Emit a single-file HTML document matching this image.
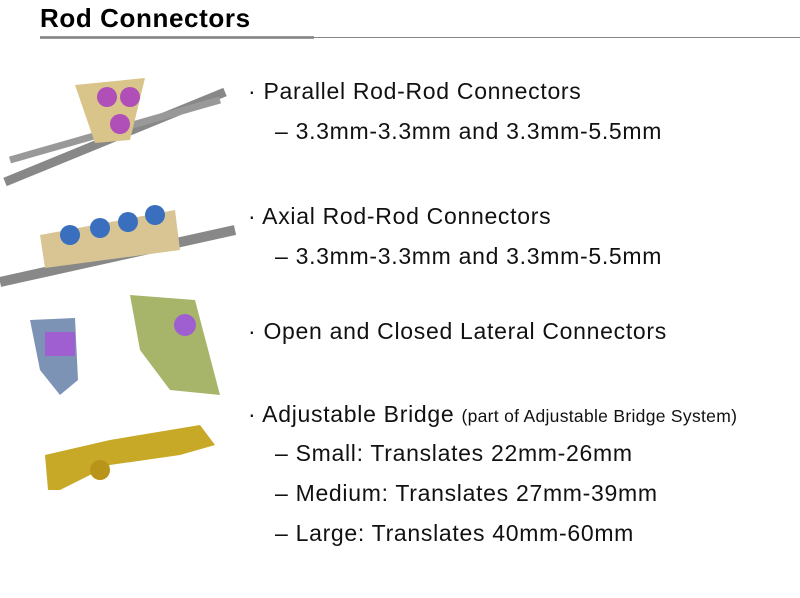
<!DOCTYPE html>
<html><head><style>
body{margin:0;width:800px;height:598px;background:#fff;position:relative;overflow:hidden;font-family:"Liberation Sans",sans-serif;}
.h{position:absolute;left:40px;top:3px;font-size:26px;font-weight:bold;color:#000;letter-spacing:0.6px}
.t{position:absolute;font-size:23px;color:#111;white-space:nowrap;line-height:26px;letter-spacing:0.7px}
.s{font-size:17.5px;letter-spacing:0.3px}
</style></head><body>
<div class="h">Rod Connectors</div>
<div style="position:absolute;left:40px;top:36px;width:274px;height:3px;background:#999"></div>
<div style="position:absolute;left:40px;top:37px;width:760px;height:1px;background:#888"></div>

<div class="t" style="left:248px;top:78px">· Parallel Rod-Rod Connectors</div>
<div class="t" style="left:275px;top:118px">– 3.3mm-3.3mm and 3.3mm-5.5mm</div>
<div class="t" style="left:248px;top:203px">· Axial Rod-Rod Connectors</div>
<div class="t" style="left:275px;top:243px">– 3.3mm-3.3mm and 3.3mm-5.5mm</div>
<div class="t" style="left:248px;top:318px">· Open and Closed Lateral Connectors</div>
<div class="t" style="left:248px;top:401px">· Adjustable Bridge <span class="s">(part of Adjustable Bridge System)</span></div>
<div class="t" style="left:275px;top:440px">– Small: Translates 22mm-26mm</div>
<div class="t" style="left:275px;top:480px">– Medium: Translates 27mm-39mm</div>
<div class="t" style="left:275px;top:520px">– Large: Translates 40mm-60mm</div>

<svg width="240" height="598" style="position:absolute;left:0;top:0">
<line x1="5" y1="182" x2="225" y2="92" stroke="#888" stroke-width="9"/>
<line x1="10" y1="160" x2="220" y2="100" stroke="#999" stroke-width="7"/>
<polygon points="75,85 145,78 130,140 95,143" fill="#d9c48a"/>
<circle cx="107" cy="97" r="10" fill="#b04fb8"/><circle cx="130" cy="97" r="10" fill="#b04fb8"/><circle cx="120" cy="124" r="10" fill="#b04fb8"/>
<line x1="0" y1="282" x2="235" y2="230" stroke="#888" stroke-width="10"/>
<polygon points="40,235 175,210 180,250 45,268" fill="#d8c593"/>
<circle cx="70" cy="235" r="10" fill="#3a6fc0"/><circle cx="100" cy="228" r="10" fill="#3a6fc0"/><circle cx="128" cy="222" r="10" fill="#3a6fc0"/><circle cx="155" cy="215" r="10" fill="#3a6fc0"/>
<polygon points="30,320 75,318 78,380 60,395 40,370" fill="#7d93b5"/>
<rect x="45" y="332" width="30" height="24" fill="#9f5fd0"/>
<polygon points="130,295 195,300 220,395 170,390 140,350" fill="#a7b56a"/>
<circle cx="185" cy="325" r="11" fill="#a05fd0"/>
<polygon points="45,455 110,440 200,425 215,445 180,455 110,465 60,490 48,490" fill="#c8a827"/>
<circle cx="100" cy="470" r="10" fill="#b8951a"/>
</svg>
</body></html>
